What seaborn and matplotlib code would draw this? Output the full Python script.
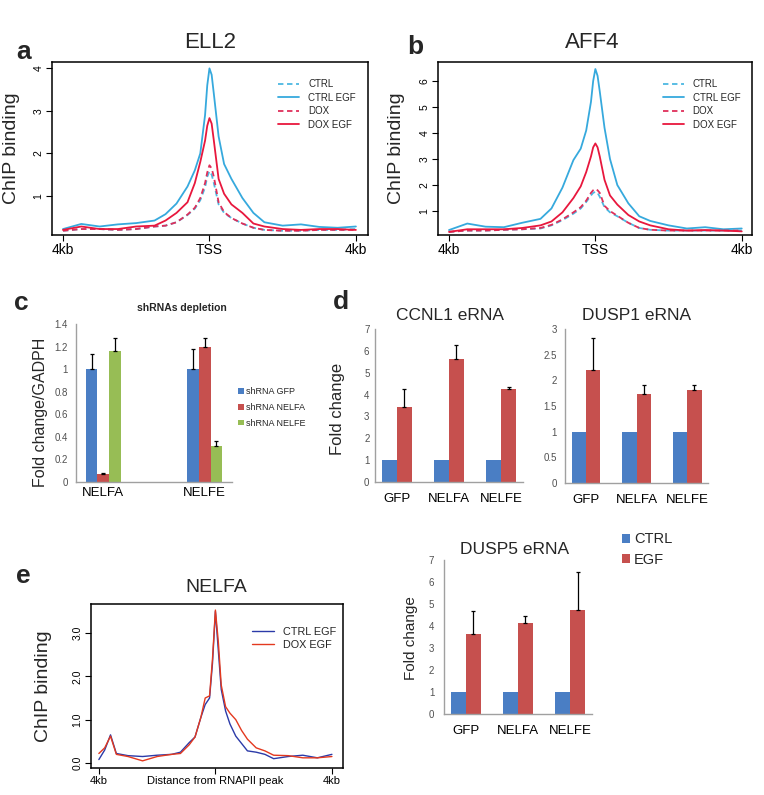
import numpy as np
import pandas as pd
import matplotlib
matplotlib.use('Agg')
import matplotlib.pyplot as plt
import seaborn as sns
from matplotlib.ticker import FuncFormatter

# ---------- data: metagene profiles (a, b) ----------
pos_ab = [-4, -3.5, -3, -2.5, -2, -1.5, -1.2, -0.9, -0.6, -0.4, -0.25, -0.12, -0.06, 0,
          0.06, 0.12, 0.25, 0.4, 0.6, 0.9, 1.2, 1.5, 2, 2.5, 3, 3.5, 4]

ell2_ctrl     = [0.18, 0.22, 0.22, 0.20, 0.22, 0.28, 0.30, 0.38, 0.55, 0.70, 0.90, 1.20, 1.45, 1.58,
                 1.50, 1.30, 0.80, 0.60, 0.48, 0.35, 0.25, 0.20, 0.18, 0.18, 0.20, 0.20, 0.22]
ell2_ctrl_egf = [0.22, 0.34, 0.28, 0.33, 0.36, 0.42, 0.57, 0.82, 1.22, 1.60, 2.00, 2.90, 3.60, 4.00,
                 3.85, 3.40, 2.40, 1.75, 1.40, 0.95, 0.60, 0.38, 0.30, 0.33, 0.27, 0.25, 0.28]
ell2_dox      = [0.18, 0.22, 0.22, 0.20, 0.22, 0.28, 0.30, 0.38, 0.56, 0.72, 0.95, 1.30, 1.55, 1.72,
                 1.65, 1.45, 0.85, 0.62, 0.48, 0.35, 0.25, 0.20, 0.18, 0.18, 0.20, 0.20, 0.20]
ell2_dox_egf  = [0.20, 0.28, 0.22, 0.22, 0.28, 0.30, 0.42, 0.60, 0.85, 1.30, 1.80, 2.30, 2.65, 2.83,
                 2.70, 2.30, 1.40, 1.05, 0.80, 0.60, 0.35, 0.28, 0.22, 0.20, 0.22, 0.22, 0.20]

aff4_ctrl     = [0.20, 0.25, 0.25, 0.28, 0.30, 0.33, 0.45, 0.65, 0.90, 1.10, 1.35, 1.60, 1.70, 1.74,
                 1.70, 1.55, 1.15, 0.95, 0.80, 0.55, 0.35, 0.28, 0.25, 0.25, 0.25, 0.25, 0.25]
aff4_ctrl_egf = [0.27, 0.52, 0.40, 0.38, 0.55, 0.70, 1.10, 1.90, 2.96, 3.40, 4.10, 5.20, 6.00, 6.46,
                 6.20, 5.60, 4.20, 3.00, 2.00, 1.30, 0.80, 0.62, 0.45, 0.33, 0.38, 0.30, 0.33]
aff4_dox      = [0.20, 0.25, 0.25, 0.28, 0.30, 0.35, 0.47, 0.68, 0.95, 1.15, 1.40, 1.70, 1.80, 1.85,
                 1.80, 1.70, 1.20, 1.00, 0.82, 0.55, 0.35, 0.28, 0.25, 0.25, 0.25, 0.25, 0.25]
aff4_dox_egf  = [0.20, 0.30, 0.30, 0.30, 0.35, 0.45, 0.60, 0.95, 1.50, 1.95, 2.50, 3.10, 3.45, 3.60,
                 3.45, 3.10, 2.20, 1.60, 1.25, 0.85, 0.60, 0.45, 0.30, 0.25, 0.27, 0.25, 0.22]

profile_labels = ['CTRL', 'CTRL EGF', 'DOX', 'DOX EGF']

# ---------- data: NELFA profile (e) ----------
pos_e = [-4, -3.8, -3.6, -3.4, -3, -2.5, -2, -1.5, -1.2, -0.9, -0.7, -0.5, -0.35, -0.2, -0.1, 0,
         0.1, 0.2, 0.35, 0.5, 0.7, 0.9, 1.1, 1.4, 1.7, 2, 2.5, 3, 3.5, 4]
nelfa_ctrl_egf = [0.08, 0.30, 0.65, 0.22, 0.17, 0.15, 0.18, 0.20, 0.25, 0.47, 0.60, 1.05, 1.35, 1.50,
                  2.30, 3.50, 2.60, 1.70, 1.20, 0.90, 0.62, 0.45, 0.28, 0.25, 0.20, 0.10, 0.15,
                  0.18, 0.12, 0.20]
nelfa_dox_egf  = [0.22, 0.35, 0.62, 0.20, 0.15, 0.05, 0.15, 0.20, 0.22, 0.42, 0.60, 1.05, 1.50, 1.55,
                  2.40, 3.53, 2.80, 1.80, 1.30, 1.15, 1.00, 0.75, 0.55, 0.35, 0.28, 0.18, 0.17,
                  0.12, 0.12, 0.15]

# ---------- data: qPCR bars ----------
shrna_targets = ['NELFA', 'NELFE']
shrna_names = ['shRNA GFP', 'shRNA NELFA', 'shRNA NELFE']
shrna_gfp = [1.0, 1.0]
shrna_nelfa = [0.074, 1.20]
shrna_nelfe = [1.157, 0.32]
shrna_gfp_sd = [0.13, 0.18]
shrna_nelfa_sd = [0.01, 0.08]
shrna_nelfe_sd = [0.12, 0.045]

knock = ['GFP', 'NELFA', 'NELFE']
treat = ['CTRL', 'EGF']
ccnl1_ctrl = [1.0, 1.0, 1.0]
ccnl1_egf = [3.44, 5.65, 4.25]
ccnl1_egf_sd = [0.81, 0.64, 0.09]
dusp1_ctrl = [1.0, 1.0, 1.0]
dusp1_egf = [2.20, 1.73, 1.81]
dusp1_egf_sd = [0.63, 0.17, 0.09]
dusp5_ctrl = [1.0, 1.0, 1.0]
dusp5_egf = [3.64, 4.14, 4.73]
dusp5_egf_sd = [1.04, 0.31, 1.72]

# ---------- style ----------
sns.set_theme(style='ticks')
plt.rcParams['font.family'] = ['Liberation Sans', 'DejaVu Sans']

W, H = 764, 795
fig = plt.figure(figsize=(W / 100, H / 100), dpi=100)

CYAN, CRIMSON = '#36a9dd', '#e8173d'
XL_BLUE, XL_RED, XL_GREEN = '#4a7ec4', '#c6504e', '#97bd55'


def place(x0, y0, x1, y1):
    # pixel box -> figure fraction
    return fig.add_axes([x0 / W, 1 - y1 / H, (x1 - x0) / W, (y1 - y0) / H])


def r_profile(ax, x, curves, ylim, yticks, yticklabels, xlim, xticklabels,
              xfs, yfs, lw=1.3):
    for y, color, ls in curves:
        sns.lineplot(x=x, y=y, ax=ax, color=color, linestyle=ls, linewidth=lw, legend=False)
    ax.set_xlim(xlim)
    ax.set_ylim(ylim)
    ax.set_xticks([-4, 0, 4])
    ax.set_xticklabels(xticklabels, fontsize=xfs)
    ax.set_yticks(yticks)
    ax.set_yticklabels(yticklabels, rotation=90, va='center', fontsize=yfs)
    for s in ax.spines.values():
        s.set_visible(True)
        s.set_color('black')
        s.set_linewidth(1.1)
    ax.tick_params(length=4, width=0.8, pad=2, colors='black')


def excel_bars(ax, cats, names, vals, sds, colors, width, ylim, yticks, legend):
    df = pd.DataFrame({'cat': [c for n in names for c in cats],
                       'series': [n for n in names for c in cats],
                       'val': [v for vs in vals for v in vs]})
    sns.barplot(data=df, x='cat', y='val', hue='series', order=cats, hue_order=names,
                palette=colors, width=width, saturation=1, errorbar=None,
                linewidth=0, ax=ax, legend=legend)
    for cont, sd in zip(ax.containers, sds):
        if sd is None:
            continue
        for bar, e in zip(cont, sd):
            xc = bar.get_x() + bar.get_width() / 2
            ax.errorbar(xc, bar.get_height(), yerr=[[0], [e]], fmt='none',
                        ecolor='black', elinewidth=0.9, capsize=1.5, capthick=0.9)
    sns.despine(ax=ax)
    for s in ('left', 'bottom'):
        ax.spines[s].set_color('#a0a0a0')
        ax.spines[s].set_linewidth(1.0)
    ax.set_ylim(ylim)
    ax.set_yticks(yticks)
    ax.yaxis.set_major_formatter(FuncFormatter(lambda v, p: f'{v:g}'))
    ax.tick_params(axis='y', length=0, labelsize=7, labelcolor='#505050', pad=6)
    ax.tick_params(axis='x', length=0, labelsize=9.5, labelcolor='black')
    ax.set_xlabel('')
    ax.set_ylabel('')


# ---------- a: ELL2 ----------
ax_a = place(52, 62, 368, 235)
r_profile(ax_a, pos_ab,
          [(ell2_ctrl, '#4cb8e2', (0, (3, 2))), (ell2_ctrl_egf, CYAN, '-'),
           (ell2_dox, '#df2f5a', (0, (3, 2))), (ell2_dox_egf, CRIMSON, '-')],
          (0.08, 4.15), [1, 2, 3, 4], ['1', '2', '3', '4'],
          (-4.3, 4.33), ['4kb', 'TSS', '4kb'], 10, 7.5)
ax_a.legend(ax_a.get_lines(), profile_labels, loc='upper left', bbox_to_anchor=(0.715, 0.9),
            frameon=False, fontsize=7, handlelength=2.2, handletextpad=0.9,
            labelspacing=0.35, borderpad=0, borderaxespad=0)
ax_a.set_ylabel('ChIP binding', fontsize=14)
ax_a.yaxis.set_label_coords(-0.1, 0.5)

# ---------- b: AFF4 ----------
ax_b = place(438, 62, 752, 235)
r_profile(ax_b, pos_ab,
          [(aff4_ctrl, '#4cb8e2', (0, (3, 2))), (aff4_ctrl_egf, CYAN, '-'),
           (aff4_dox, '#df2f5a', (0, (3, 2))), (aff4_dox_egf, CRIMSON, '-')],
          (0.08, 6.73), [1, 2, 3, 4, 5, 6], ['1', '2', '3', '4', '5', '6'],
          (-4.3, 4.28), ['4kb', 'TSS', '4kb'], 10, 7.5)
ax_b.legend(ax_b.get_lines(), profile_labels, loc='upper left', bbox_to_anchor=(0.715, 0.9),
            frameon=False, fontsize=7, handlelength=2.2, handletextpad=0.9,
            labelspacing=0.35, borderpad=0, borderaxespad=0)
ax_b.set_ylabel('ChIP binding', fontsize=14)
ax_b.yaxis.set_label_coords(-0.105, 0.5)

# ---------- c: shRNA depletion ----------
ax_c = place(76, 324, 232, 482)
excel_bars(ax_c, shrna_targets, shrna_names, [shrna_gfp, shrna_nelfa, shrna_nelfe],
           [shrna_gfp_sd, shrna_nelfa_sd, shrna_nelfe_sd], [XL_BLUE, XL_RED, XL_GREEN],
           0.35, (0, 1.4), [0, 0.2, 0.4, 0.6, 0.8, 1.0, 1.2, 1.4], legend=True)
ax_c.set_xlim(-0.27, 1.27)
ax_c.tick_params(axis='x', pad=3.5)
sns.move_legend(ax_c, 'upper left', bbox_to_anchor=(1.04, 0.6), frameon=False, title=None,
                fontsize=6.5, handlelength=0.6, handleheight=0.6, handletextpad=0.3,
                labelspacing=0.75, borderpad=0, borderaxespad=0)
ax_c.set_ylabel('Fold change/GADPH', fontsize=11.5)
ax_c.yaxis.set_label_coords(-0.18, 0.44)
fig.text(182 / W, 1 - 308 / H, 'shRNAs depletion', ha='center', va='center',
         fontsize=7.5, fontweight='bold')

# ---------- d: CCNL1 / DUSP1 eRNA ----------
ax_d1 = place(375, 329, 523, 482)
excel_bars(ax_d1, knock, treat, [ccnl1_ctrl, ccnl1_egf], [None, ccnl1_egf_sd],
           [XL_BLUE, XL_RED], 0.57, (0, 7), [0, 1, 2, 3, 4, 5, 6, 7], legend=False)
ax_d1.tick_params(axis='x', pad=8)
ax_d1.tick_params(axis='y', pad=4)
ax_d1.set_ylabel('Fold change', fontsize=12)
ax_d1.yaxis.set_label_coords(-0.2, 0.48)
fig.text(450 / W, 1 - 315 / H, 'CCNL1 eRNA', ha='center', va='center', fontsize=12.5)

ax_d2 = place(565, 329, 708, 483)
excel_bars(ax_d2, knock, treat, [dusp1_ctrl, dusp1_egf], [None, dusp1_egf_sd],
           [XL_BLUE, XL_RED], 0.57, (0, 3), [0, 0.5, 1, 1.5, 2, 2.5, 3], legend=False)
ax_d2.tick_params(axis='x', pad=8)
fig.text(637 / W, 1 - 315 / H, 'DUSP1 eRNA', ha='center', va='center', fontsize=12.5)

# ---------- DUSP5 eRNA ----------
ax_d3 = place(444, 560, 592, 714)
excel_bars(ax_d3, knock, treat, [dusp5_ctrl, dusp5_egf], [None, dusp5_egf_sd],
           [XL_BLUE, XL_RED], 0.57, (0, 7), [0, 1, 2, 3, 4, 5, 6, 7], legend=True)
ax_d3.tick_params(axis='x', pad=8)
ax_d3.tick_params(axis='y', pad=7)
sns.move_legend(ax_d3, 'upper left', bbox_to_anchor=(1.2, 1.18), frameon=False, title=None,
                fontsize=10.5, handlelength=0.6, handleheight=0.6, handletextpad=0.25,
                labelspacing=0.45, borderpad=0, borderaxespad=0)
ax_d3.set_ylabel('Fold change', fontsize=11)
ax_d3.yaxis.set_label_coords(-0.176, 0.49)
fig.text(515 / W, 1 - 549 / H, 'DUSP5 eRNA', ha='center', va='center', fontsize=12.5)

# ---------- e: NELFA ----------
ax_e = place(91, 604, 343, 768)
r_profile(ax_e, pos_e, [(nelfa_ctrl_egf, '#2b3aa8', '-'), (nelfa_dox_egf, '#e3391f', '-')],
          (-0.115, 3.67), [0, 1, 2, 3], ['0.0', '1.0', '2.0', '3.0'],
          (-4.27, 4.38), ['4kb', 'Distance from RNAPII peak', '4kb'], 8, 7.5, lw=1.0)
ax_e.legend(ax_e.get_lines(), ['CTRL EGF', 'DOX EGF'], loc='upper left',
            bbox_to_anchor=(0.64, 0.86), frameon=False, fontsize=7.8, handlelength=2.0,
            handletextpad=0.8, labelspacing=0.3, borderpad=0, borderaxespad=0)
ax_e.set_ylabel('ChIP binding', fontsize=14)
ax_e.yaxis.set_label_coords(-0.155, 0.5)
fig.text(216 / W, 1 - 588 / H, 'NELFA', ha='center', va='center', fontsize=14)

# ---------- titles + panel letters ----------
fig.text(210 / W, 1 - 42 / H, 'ELL2', ha='center', va='center', fontsize=16)
fig.text(592 / W, 1 - 43 / H, 'AFF4', ha='center', va='center', fontsize=16)
for letter, x, y in [('a', 24, 52), ('b', 415, 47), ('c', 21, 303), ('d', 341, 302), ('e', 23, 576)]:
    fig.text(x / W, 1 - y / H, letter, ha='center', va='center', fontsize=19, fontweight='bold')

fig.savefig('out.png', dpi=100)
